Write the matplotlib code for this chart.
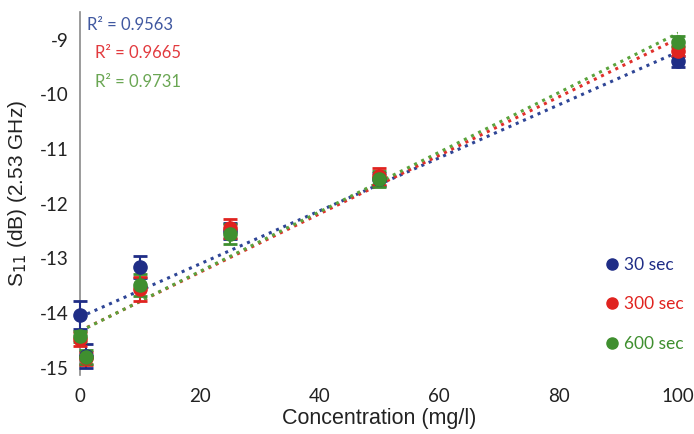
import numpy as np
from matplotlib import pyplot as plt
from matplotlib.lines import Line2D

plt.rcParams['axes.unicode_minus'] = False

# --------------------------- Data ---------------------------

conc = [0, 1, 10, 25, 50, 100]
series_labels = ['30 sec', '300 sec', '600 sec']
s11_30 = [-14.03, -14.78, -13.15, -12.50, -11.55, -9.40]
s11_300 = [-14.47, -14.82, -13.55, -12.45, -11.50, -9.21]
s11_600 = [-14.42, -14.80, -13.48, -12.55, -11.55, -9.04]
err_30 = [0.25, 0.22, 0.20, 0.15, 0.12, 0.10]
err_300 = [0.12, 0.12, 0.22, 0.18, 0.15, 0.10]
err_600 = [0.10, 0.12, 0.20, 0.18, 0.15, 0.10]
r2_labels = ['0.9563', '0.9665', '0.9731']

marker_colors = ['#1f2d86', '#e0231f', '#3f8f2f']
line_colors = ['#2e4596', '#e0302b', '#5aa33c']
text_colors = ['#4058a0', '#e23a3e', '#6aa653']

# ------------------------ Plot -------------------------------

fig = plt.figure(figsize=(6.94, 4.34), dpi=100)
ax = fig.add_axes([0.1153, 0.137, 0.862, 0.835])

x = np.array(conc, dtype=float)
xs = np.linspace(0, 100, 200)
for ys, lc in zip([s11_30, s11_300, s11_600], line_colors):
    slope, intercept = np.polyfit(x, ys, 1)
    ax.plot(xs, slope * xs + intercept, linestyle=(0, (1, 1.6)),
            color=lc, linewidth=2.2, zorder=2)

for ys, errs, mc in zip([s11_30, s11_300, s11_600],
                        [err_30, err_300, err_600], marker_colors):
    bars = ax.errorbar(x, ys, yerr=errs, fmt='o', color=mc, markersize=9.5,
                       elinewidth=1.5, capsize=5, capthick=2, zorder=3)
    for artist in bars.lines[0:1] + tuple(bars.lines[1]) + tuple(bars.lines[2]):
        artist.set_clip_on(False)

# R² values in the top-left corner
for i, (r2, tc) in enumerate(zip(r2_labels, text_colors)):
    ax.text(1.2 + 1.3 * (i > 0), -8.73 - 0.52 * i, 'R² = ' + r2,
            color=tc, fontsize=12, family='Lato', va='center')

ax.set_xlim(0, 100)
ax.set_ylim(-15.12, -8.5)
ax.set_xticks([0, 20, 40, 60, 80, 100])
ax.set_yticks([-15, -14, -13, -12, -11, -10, -9])

for side in ['top', 'right', 'bottom']:
    ax.spines[side].set_visible(False)
ax.spines['left'].set_color('#8a8a8a')
ax.spines['left'].set_linewidth(1.2)
ax.tick_params(length=0, labelsize=13.5, colors='#222222', pad=8)
ax.tick_params(axis='x', pad=10)
for lbl in ax.get_xticklabels() + ax.get_yticklabels():
    lbl.set_family('Lato')

ax.set_xlabel('Concentration (mg/l)', fontsize=15.5, color='#222222',
              labelpad=2, family='Liberation Sans')
ax.set_ylabel('S$_{11}$ (dB) (2.53 GHz)', fontsize=15, color='#222222',
              labelpad=8, family='Liberation Sans')

handles = [Line2D([], [], marker='o', linestyle='none', color=mc, markersize=8)
           for mc in marker_colors]
leg = ax.legend(handles, series_labels, loc='lower right',
                bbox_to_anchor=(1.035, 0.02), frameon=False,
                prop={'family': 'Lato', 'size': 12.5}, handletextpad=0.1,
                labelspacing=1.35, handlelength=1.2)
for txt, tc in zip(leg.get_texts(), marker_colors):
    txt.set_color(tc)

fig.savefig('out.png', dpi=100)
